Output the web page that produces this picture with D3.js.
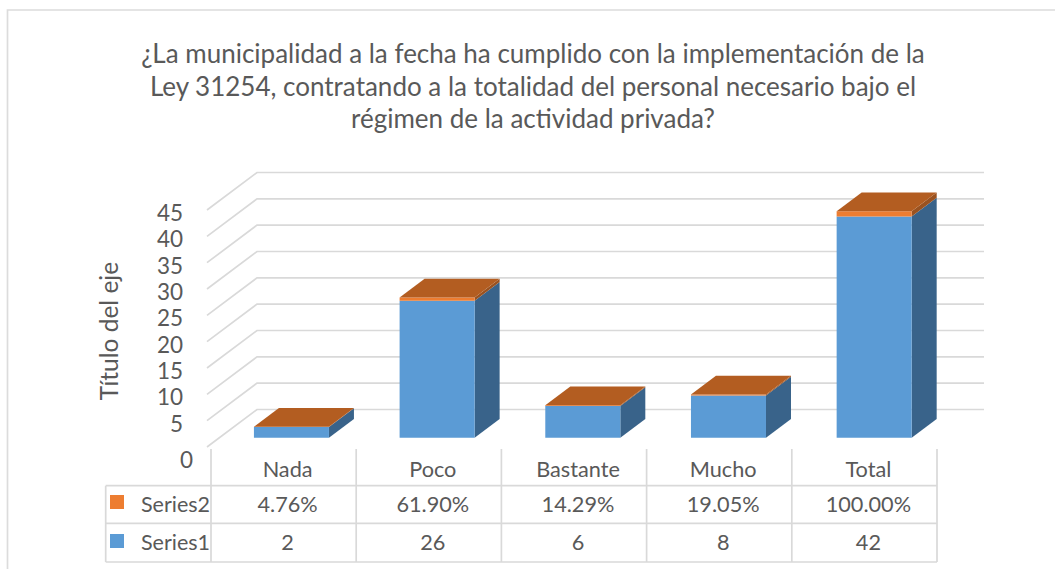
<!DOCTYPE html>
<html><head><meta charset="utf-8">
<script src="https://cdnjs.cloudflare.com/ajax/libs/d3/7.8.5/d3.min.js"></script>
<style>html,body{margin:0;padding:0;background:#fff}svg{display:block}text{font-family:Lato,"Open Sans",sans-serif;fill:#595959}</style>
</head><body><svg id="c" width="1055" height="569"></svg>
<script>
const categories = ["Nada","Poco","Bastante","Mucho","Total"];
const series1 = [2,26,6,8,42];
const series2 = [0.0476,0.619,0.1429,0.1905,1];
const series2Labels = ["4.76%","61.90%","14.29%","19.05%","100.00%"];
const yTicks = [0,5,10,15,20,25,30,35,40,45];
const titleLines = ["¿La municipalidad a la fecha ha cumplido con la implementación de la","Ley 31254, contratando a la totalidad del personal necesario bajo el","régimen de la actividad privada?"];

const svg = d3.select("#c");
const C = {grid:"#d9d9d9",blue:"#5b9bd5",blueSide:"#39638a",org:"#ed7d31",orgTop:"#b35d21",orgSide:"#9a5220",border:"#dcdcdc"};

// chart frame: top and left edges, the right and bottom run off the picture
svg.append("path").attr("d","M7.5,569V10H1055").attr("fill","none").attr("stroke",C.border).attr("stroke-width",1.7);

// title
svg.append("g").selectAll("text").data(titleLines).join("text")
  .attr("x",533).attr("y",(d,i)=>63+i*32.5).attr("text-anchor","middle").attr("font-size",26).text(d=>d);

// scales: front plane of floor
const y = d3.scaleLinear().domain([0,45]).range([447,210]);
const depthX = 50, depthY = -37.5;
const frontLeft = 207, backRight = 984;
// bars sit half-way into the floor depth
const x = d3.scaleBand().domain(categories).range([218.6,947]).paddingInner(0.485).paddingOuter(0.2425);
const barOffX = depthX/4, barOffY = depthY/4, barDX = depthX/2, barDY = depthY/2;

// gridlines
svg.append("g").selectAll("path").data(yTicks).join("path")
  .attr("d",v=>`M${frontLeft},${y(v)}L${frontLeft+depthX},${y(v)+depthY}H${backRight}`)
  .attr("fill","none").attr("stroke",C.grid).attr("stroke-width",1.7);

// y tick labels
svg.append("g").selectAll("text").data(yTicks).join("text")
  .attr("x",v=>v===0?193:183).attr("y",v=>v===0?468:y(v)+11).attr("text-anchor","end")
  .attr("font-size",22.5).text(d=>d);

// axis title
svg.append("text").attr("transform","translate(118,331) rotate(-90)").attr("text-anchor","middle").attr("font-size",24.5).text("Título del eje");

// bars
const base = y(0)+barOffY;
const h = v=>y(0)-y(v);
const bars = svg.append("g").selectAll("g").data(categories.map((c,i)=>({c,a:series1[i],b:series2[i]}))).join("g");
function poly(sel,fn,fill){sel.append("path").attr("d",fn).attr("fill",fill);}
const X0 = d=>x(d.c), X1 = d=>x(d.c)+x.bandwidth();
poly(bars,d=>`M${X1(d)},${base}L${X1(d)+barDX},${base+barDY}V${base+barDY-h(d.a)}L${X1(d)},${base-h(d.a)}Z`,C.blueSide);
poly(bars,d=>`M${X1(d)},${base-h(d.a)}L${X1(d)+barDX},${base+barDY-h(d.a)}V${base+barDY-h(d.a+d.b)}L${X1(d)},${base-h(d.a+d.b)}Z`,C.orgSide);
poly(bars,d=>`M${X0(d)},${base}H${X1(d)}V${base-h(d.a)}H${X0(d)}Z`,C.blue);
poly(bars,d=>`M${X0(d)},${base-h(d.a)}H${X1(d)}V${base-h(d.a+d.b)}H${X0(d)}Z`,C.org);
poly(bars,d=>{const t=base-h(d.a+d.b);return `M${X0(d)},${t}H${X1(d)}L${X1(d)+barDX},${t+barDY}H${X0(d)+barDX}Z`;},C.orgTop);

// data table
const colX = d3.scalePoint().domain(d3.range(6)).range([211,937]);
const rowY = [449,485.7,523.3,562];
const tbl = svg.append("g").attr("stroke",C.grid).attr("stroke-width",1.7).attr("fill","none");
tbl.selectAll("line.v").data(d3.range(6)).join("line").attr("x1",i=>colX(i)).attr("x2",i=>colX(i)).attr("y1",rowY[0]).attr("y2",rowY[3]);
tbl.append("path").attr("d",`M105.7,${rowY[1]}H937M105.7,${rowY[2]}H937M105.7,${rowY[3]}H937M105.7,${rowY[1]}V${rowY[3]}`);

const mid = i=>(colX(i)+colX(i+1))/2+4;
const cell = (arr,yy)=>svg.append("g").selectAll("text").data(arr).join("text").attr("x",(d,i)=>mid(i)).attr("y",yy).attr("text-anchor","middle").attr("font-size",21.7).text(d=>d);
cell(categories,477); cell(series2Labels,512); cell(series1,550);

// legend keys
const keys = [{n:"Series2",c:C.org,y:502,b:512},{n:"Series1",c:C.blue,y:541,b:550}];
svg.append("g").selectAll("rect").data(keys).join("rect").attr("x",110).attr("y",d=>d.y-7).attr("width",14).attr("height",14).attr("fill",d=>d.c);
svg.append("g").selectAll("text").data(keys).join("text").attr("x",141).attr("y",d=>d.b).attr("font-size",21.5).text(d=>d.n);
</script></body></html>
